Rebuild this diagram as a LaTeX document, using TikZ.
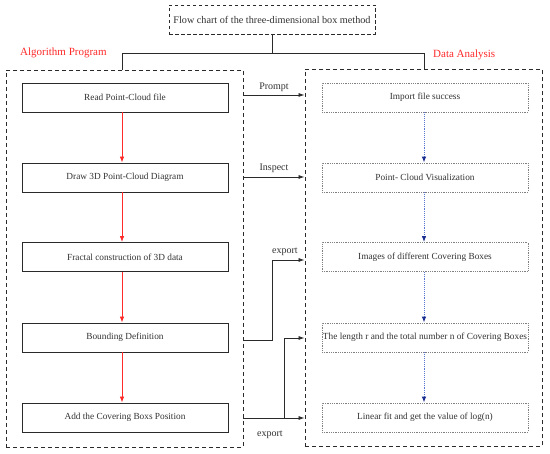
\documentclass[tikz,border=0pt]{standalone}
\usepackage{fontspec}
\setmainfont{Liberation Serif}
\usetikzlibrary{arrows.meta,calc}
\definecolor{txt}{HTML}{333333}
\definecolor{edge}{HTML}{2A2A2A}
\definecolor{dotc}{HTML}{808080}
\definecolor{redc}{HTML}{FF2A2A}
\definecolor{bluel}{HTML}{5A78D0}
\definecolor{navyc}{HTML}{1A2F8F}
\begin{document}
\begin{tikzpicture}[x=1pt,y=-1pt,
  every node/.style={text=txt},
  outerbox/.style={draw=edge,line width=0.9pt,dash pattern=on 4pt off 3pt,minimum width=237,minimum height=377,inner sep=0pt},
  titlebox/.style={draw=edge,line width=0.9pt,dash pattern=on 3.5pt off 2.5pt,minimum width=206,minimum height=29,font=\fontsize{10.2}{12}\selectfont},
  leftbox/.style={draw=edge,line width=0.8pt,minimum width=206,minimum height=29,font=\fontsize{9.3}{11}\selectfont,inner sep=1pt},
  rightbox/.style={draw=dotc,line width=0.8pt,densely dotted,minimum width=206,minimum height=29,font=\fontsize{9.3}{11}\selectfont,inner sep=0pt},
  redarrow/.style={draw=redc,line width=0.8pt,-{Latex[length=6pt,width=4.5pt]}},
  bluearrow/.style={draw=bluel,line width=0.9pt,densely dotted,-{Latex[length=6pt,width=4.5pt,color=navyc]}},
  conn/.style={draw=edge,line width=0.8pt,-{Latex[length=6pt,width=4pt]}},
  treeline/.style={draw=edge,line width=0.9pt},
  lbl/.style={font=\fontsize{10}{12}\selectfont,inner sep=0pt},
  redlbl/.style={text=redc,font=\fontsize{11}{13}\selectfont,inner sep=0pt,anchor=west}
]
\useasboundingbox (0,0) rectangle (550,454);
\fill[white] (0,0) rectangle (550,454);

% title and tree
\node[titlebox] (title) at (272,19.5) {Flow chart of the three-dimensional box method};
\node[outerbox] (L) at (124.5,258.5) {};
\node[outerbox] (R) at (423.5,258) {};
\coordinate (bl) at (122,53);
\coordinate (br) at (424,53);
\draw[treeline] (title.south) -- (title.south |- bl);
\draw[treeline] (L.north -| bl) -- (bl) -- (br) -- (R.north -| br);

\node[redlbl] (algo) at (20,53) {Algorithm Program};
\node[redlbl] (data) at (433,55) {Data Analysis};

% left column
\node[leftbox] (l1) at (125,97.5) {Read Point-Cloud file};
\node[leftbox] (l2) at (125,177.5) {Draw 3D Point-Cloud Diagram};
\node[leftbox] (l3) at (125,257) {Fractal construction of 3D data};
\node[leftbox] (l4) at (125,337.5) {Bounding Definition};
\node[leftbox] (l5) at (125,417.5) {Add the Covering Boxs Position};

% right column
\node[rightbox] (r1) at (425,97.5) {Import file success};
\node[rightbox] (r2) at (425,177.5) {Point- Cloud Visualization};
\node[rightbox] (r3) at (425,257) {Images of different Covering Boxes};
\node[rightbox] (r4) at (425,337.5) {The length r and the total number n of Covering Boxes};
\node[rightbox] (r5) at (425,417.5) {Linear fit and get the value of log(n)};

% red arrows
\draw[redarrow] ([xshift=-3pt]l1.south) -- ([xshift=-3pt]l2.north);
\draw[redarrow] ([xshift=-3pt]l2.south) -- ([xshift=-3pt]l3.north);
\draw[redarrow] ([xshift=-3pt]l3.south) -- ([xshift=-3pt]l4.north);
\draw[redarrow] ([xshift=-3pt]l4.south) -- ([xshift=-3pt]l5.north);

% blue arrows
\draw[bluearrow] ([xshift=-1pt]r1.south) -- ([xshift=-1pt]r2.north);
\draw[bluearrow] ([xshift=-1pt]r2.south) -- ([xshift=-1pt]r3.north);
\draw[bluearrow] ([xshift=-1pt]r3.south) -- ([xshift=-1pt]r4.north);
\draw[bluearrow] ([xshift=-1pt]r4.south) -- ([xshift=-1pt]r5.north);

% connectors between columns
\draw[conn] (L.east |- 0,95) -- (R.west |- 0,95);
\node[lbl] (pl) at (274,87) {Prompt};
\draw[conn] (L.east |- 0,177) -- (R.west |- 0,177);
\node[lbl] (il) at (274,168) {Inspect};
\coordinate (ex1) at (272,340);
\draw[conn] (L.east |- ex1) -- (ex1) |- (R.west |- 0,260);
\node[lbl] (e1) at (285,252) {export};
\coordinate (ex2) at (284,418);
\draw[conn] (L.east |- ex2) -- (R.west |- ex2);
\draw[conn] (ex2) |- (R.west |- 0,338);
\node[lbl] (e2) at (270,435) {export};
\end{tikzpicture}
\end{document}
